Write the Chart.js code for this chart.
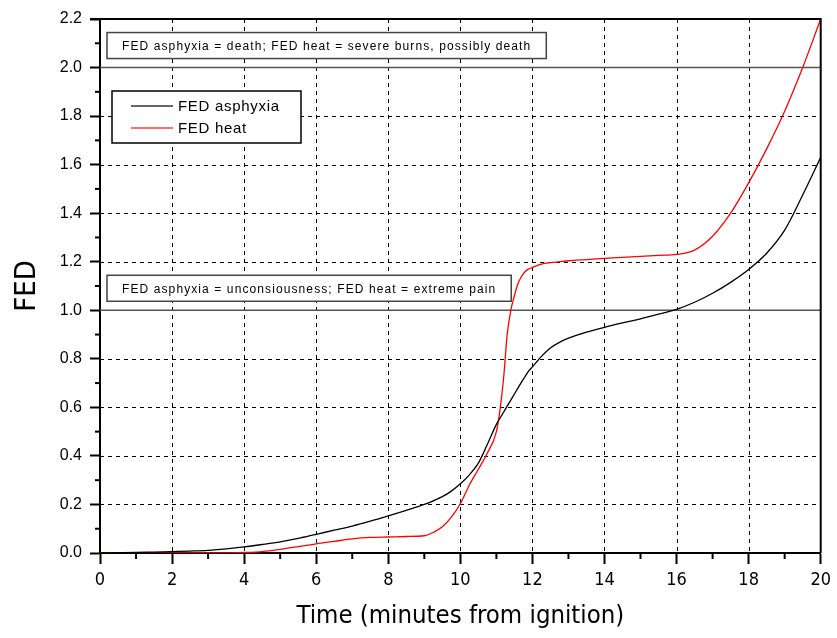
<!DOCTYPE html>
<html><head><meta charset="utf-8">
<script src="https://cdn.jsdelivr.net/npm/chart.js@4"></script>
<style>html,body{margin:0;padding:0;background:#fff}canvas{display:block}</style>
</head><body>
<canvas id="c" width="837" height="638"></canvas>
<script>
// ---- data ----
const timeMin = [0, 0.5, 1, 1.5, 2, 2.5, 3, 3.5, 4, 4.5, 5, 5.5, 6, 6.5, 7, 7.5, 8, 8.5, 9, 9.25, 9.5, 9.75,
  10, 10.25, 10.5, 10.75, 11, 11.1, 11.2, 11.3, 11.4, 11.5, 11.6, 11.7, 11.8, 11.9, 12, 12.25, 12.5, 12.75,
  13, 13.5, 14, 14.5, 15, 15.5, 16, 16.5, 17, 17.5, 18, 18.5, 19, 19.5, 20];
const fedAsphyxia = [0, 0.001, 0.002, 0.004, 0.006, 0.008, 0.011, 0.017, 0.025, 0.035, 0.046, 0.06, 0.077, 0.094,
  0.111, 0.131, 0.153, 0.176, 0.2, 0.215, 0.232, 0.255, 0.285, 0.322, 0.37, 0.448, 0.53, 0.556, 0.58, 0.605,
  0.63, 0.655, 0.68, 0.705, 0.728, 0.75, 0.767, 0.81, 0.845, 0.868, 0.885, 0.91, 0.93, 0.948, 0.965, 0.984,
  1.004, 1.033, 1.07, 1.115, 1.168, 1.235, 1.33, 1.475, 1.63];
const fedHeat = [0, 0, 0, 0, 0, 0, 0, 0, 0.002, 0.006, 0.015, 0.026, 0.038, 0.048, 0.058, 0.064, 0.066, 0.068,
  0.071, 0.085, 0.108, 0.148, 0.203, 0.28, 0.345, 0.412, 0.5, 0.59, 0.72, 0.9, 1.0, 1.06, 1.11, 1.14, 1.16,
  1.17, 1.177, 1.19, 1.196, 1.2, 1.204, 1.209, 1.214, 1.218, 1.222, 1.226, 1.23, 1.248, 1.305, 1.4, 1.525,
  1.665, 1.82, 2.0, 2.2];
const seriesNames = ['FED asphyxia', 'FED heat'];
const xTicks = [0, 2, 4, 6, 8, 10, 12, 14, 16, 18, 20];
const yTicks = [0, 0.2, 0.4, 0.6, 0.8, 1.0, 1.2, 1.4, 1.6, 1.8, 2.0, 2.2];
const thresholdLevels = [2.0, 1.0];
const thresholdNotes = ['FED asphyxia = death; FED heat = severe burns, possibly death',
                        'FED asphyxia = unconsiousness; FED heat = extreme pain'];
const xTitle = 'Time (minutes from ignition)';
const yTitle = 'FED';

// ---- styles ----
const COND = '"DejaVu Sans Condensed", "Liberation Sans", sans-serif';
const SANS = '"Liberation Sans", Arial, sans-serif';
const colors = ['#000000', '#ff0000'];

const toPts = arr => timeMin.map((t, i) => ({x: t, y: arr[i]}));
const near = (a, b) => Math.abs(a - b) < 1e-9;

const framePlugin = {
  id: 'frame',
  beforeDatasetsDraw(chart) {
    const {ctx, chartArea: a, scales: {x, y}} = chart;
    ctx.save();
    ctx.lineWidth = 1;
    ctx.strokeStyle = '#000';
    ctx.setLineDash([4, 4]);
    xTicks.forEach(v => {
      if (v <= x.min || v >= x.max) return;
      const px = Math.round(x.getPixelForValue(v)) + 0.5;
      ctx.beginPath(); ctx.moveTo(px, a.top); ctx.lineTo(px, a.bottom); ctx.stroke();
    });
    yTicks.forEach(v => {
      if (v <= y.min || v >= y.max || thresholdLevels.some(l => near(l, v))) return;
      const py = Math.round(y.getPixelForValue(v)) + 0.5;
      ctx.beginPath(); ctx.moveTo(a.left, py); ctx.lineTo(a.right, py); ctx.stroke();
    });
    ctx.setLineDash([]);
    ctx.strokeStyle = '#555';
    ctx.lineWidth = 1.5;
    thresholdLevels.forEach(v => {
      const py = y.getPixelForValue(v);
      ctx.beginPath(); ctx.moveTo(a.left, py); ctx.lineTo(a.right, py); ctx.stroke();
    });
    ctx.restore();
  },
  afterDatasetsDraw(chart) {
    const {ctx, chartArea: a, scales: {x, y}} = chart;
    ctx.save();
    // top and right frame
    ctx.strokeStyle = '#000';
    ctx.lineWidth = 2;
    ctx.beginPath();
    ctx.moveTo(a.left - 10, a.top); ctx.lineTo(a.right, a.top); ctx.lineTo(a.right, a.bottom);
    ctx.stroke();
    // minor ticks
    for (let i = 0; i < yTicks.length - 1; i++) {
      const py = y.getPixelForValue((yTicks[i] + yTicks[i + 1]) / 2);
      ctx.beginPath(); ctx.moveTo(a.left - 5, py); ctx.lineTo(a.left, py); ctx.stroke();
    }
    for (let i = 0; i < xTicks.length - 1; i++) {
      const px = x.getPixelForValue((xTicks[i] + xTicks[i + 1]) / 2);
      ctx.beginPath(); ctx.moveTo(px, a.bottom); ctx.lineTo(px, a.bottom + 6); ctx.stroke();
    }
    // threshold annotation boxes
    ctx.font = '12px ' + SANS;
    ctx.letterSpacing = '1.1px';
    ctx.textBaseline = 'middle';
    ctx.textAlign = 'left';
    thresholdLevels.forEach((lvl, i) => {
      const txt = thresholdNotes[i];
      const tw = ctx.measureText(txt).width;
      const bx = a.left + 7, bh = 26;
      const cy = y.getPixelForValue(lvl) - 22;
      const bw = tw + 30;
      ctx.fillStyle = '#fff';
      ctx.fillRect(bx, cy - bh / 2, bw, bh);
      ctx.strokeStyle = '#444';
      ctx.lineWidth = 1.5;
      ctx.strokeRect(bx, cy - bh / 2, bw, bh);
      ctx.fillStyle = '#000';
      ctx.fillText(txt, bx + 15, cy + 1);
    });
    // legend
    const lx = a.left + 12, ly = a.top + 72, lw = 189, lh = 52;
    ctx.fillStyle = '#fff';
    ctx.fillRect(lx, ly, lw, lh);
    ctx.strokeStyle = '#000';
    ctx.lineWidth = 1.5;
    ctx.strokeRect(lx, ly, lw, lh);
    ctx.font = '15px ' + SANS;
    ctx.letterSpacing = '0.7px';
    chart.data.datasets.forEach((ds, i) => {
      const ry = ly + 15 + i * 22;
      ctx.strokeStyle = i === 0 ? '#333' : '#ff3b3b';
      ctx.lineWidth = 1.5;
      ctx.beginPath(); ctx.moveTo(lx + 19, ry); ctx.lineTo(lx + 61, ry); ctx.stroke();
      ctx.fillStyle = '#000';
      ctx.fillText(ds.label, lx + 66, ry + 1);
    });
    ctx.restore();
  }
};

new Chart(document.getElementById('c').getContext('2d'), {
  type: 'line',
  data: {
    datasets: [
      {label: seriesNames[0], data: toPts(fedAsphyxia), borderColor: colors[0], borderWidth: 1.3,
       pointRadius: 0, cubicInterpolationMode: 'monotone', fill: false},
      {label: seriesNames[1], data: toPts(fedHeat), borderColor: colors[1], borderWidth: 1.3,
       pointRadius: 0, cubicInterpolationMode: 'monotone', fill: false}
    ]
  },
  options: {
    responsive: false, animation: false, devicePixelRatio: 1,
    layout: {padding: {top: 19, right: 12, left: 0, bottom: 0}},
    plugins: {legend: {display: false}, tooltip: {enabled: false}},
    scales: {
      x: {
        type: 'linear', min: 0, max: 20,
        afterBuildTicks: s => { s.ticks = xTicks.map(v => ({value: v})); },
        afterFit: s => { s.height = 85; },
        grid: {display: true, drawOnChartArea: false, drawTicks: true, tickLength: 11, tickWidth: 2, tickColor: '#000'},
        border: {display: true, color: '#000', width: 2},
        ticks: {color: '#000', font: {family: COND, size: 18}, padding: 6, maxRotation: 0, autoSkip: false,
                callback: v => String(v)},
        title: {display: true, text: xTitle, color: '#000', font: {family: COND, size: 25.5},
                padding: {top: 0, bottom: 6}}
      },
      y: {
        min: 0, max: 2.2,
        afterBuildTicks: s => { s.ticks = yTicks.map(v => ({value: v})); },
        afterFit: s => { s.width = 100; },
        grid: {display: true, drawOnChartArea: false, drawTicks: true, tickLength: 10, tickWidth: 2, tickColor: '#000'},
        border: {display: true, color: '#000', width: 2},
        ticks: {color: '#000', font: {family: SANS, size: 16}, padding: 8, autoSkip: false,
                callback: v => Number(v).toFixed(1)},
        title: {display: true, text: yTitle, color: '#000', font: {family: COND, size: 29},
                padding: {top: 10, bottom: 0}}
      }
    }
  },
  plugins: [framePlugin]
});
</script>
</body></html>
